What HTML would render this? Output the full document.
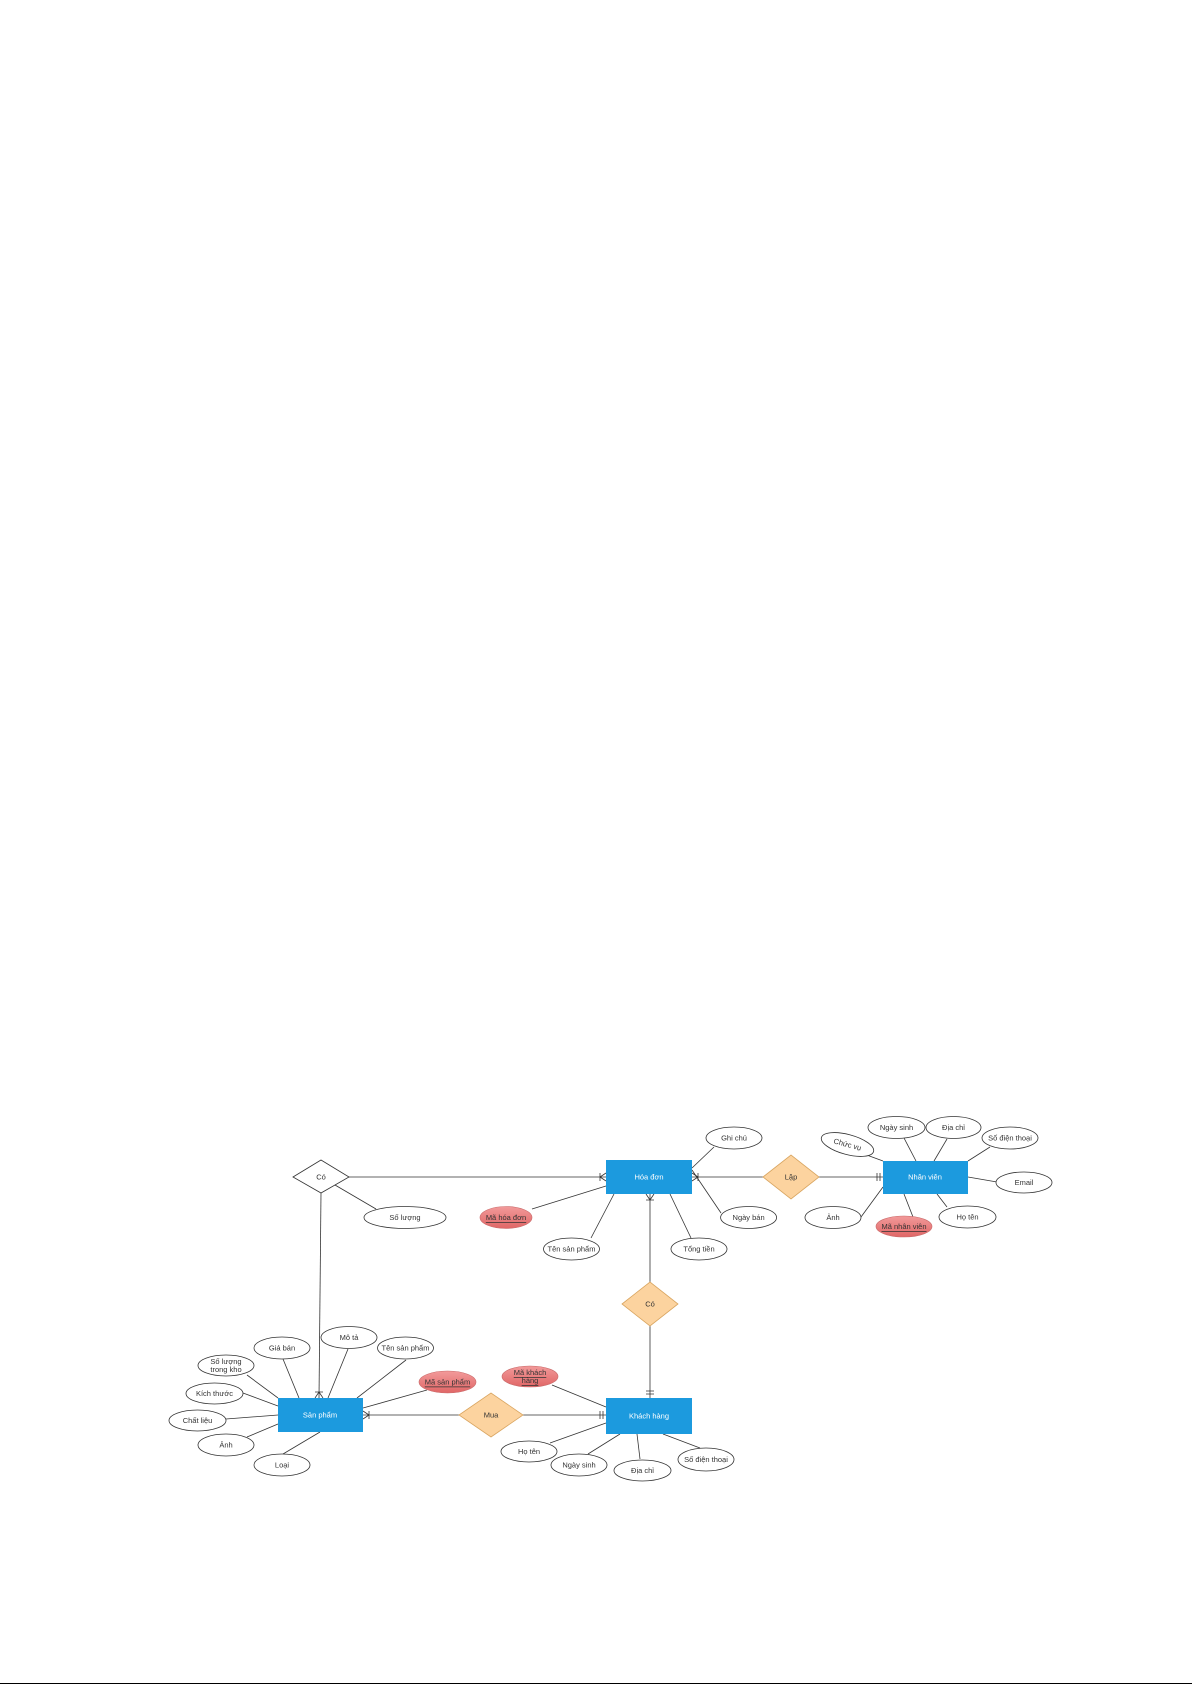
<!DOCTYPE html>
<html><head><meta charset="utf-8"><style>
html,body{margin:0;padding:0;background:#fff;}
svg{display:block;}
text{font-family:"Liberation Sans",sans-serif;font-size:7.5px;fill:#333;text-anchor:middle;dominant-baseline:central;}
.w{fill:#fff;}
.e{fill:#fff;stroke:#333;stroke-width:0.8;}
.r{fill:url(#rg);stroke:#c96a6a;stroke-width:0.6;}
.l{stroke:#333;stroke-width:0.8;fill:none;}
.b{fill:#1c9ade;}
.d{fill:#fcd39f;stroke:#d9a560;stroke-width:0.8;}
</style></head><body>
<svg width="1192" height="1685" viewBox="0 0 1192 1685">
<defs><linearGradient id="rg" x1="0" y1="0" x2="0" y2="1"><stop offset="0" stop-color="#f29a9a"/><stop offset="1" stop-color="#e06666"/></linearGradient></defs>
<!-- connectors -->
<g class="l">
<line x1="349" y1="1177" x2="606" y2="1177"/>
<line x1="321" y1="1193" x2="319" y2="1398"/>
<line x1="335" y1="1185" x2="376" y2="1209"/>
<line x1="532" y1="1209" x2="606" y2="1186"/>
<line x1="591" y1="1238" x2="614" y2="1194"/>
<line x1="714" y1="1147" x2="692" y2="1168"/>
<line x1="721" y1="1213" x2="692" y2="1170"/>
<line x1="691" y1="1238" x2="670" y2="1194"/>
<line x1="692" y1="1177" x2="763" y2="1177"/>
<line x1="819" y1="1177" x2="883" y2="1177"/>
<line x1="650" y1="1194" x2="650" y2="1282"/>
<line x1="650" y1="1326" x2="650" y2="1398"/>
<line x1="904" y1="1138" x2="916" y2="1161"/>
<line x1="947" y1="1139" x2="934" y2="1161"/>
<line x1="990" y1="1147" x2="968" y2="1161"/>
<line x1="997" y1="1182" x2="968" y2="1177"/>
<line x1="947" y1="1207" x2="937" y2="1194"/>
<line x1="913" y1="1217" x2="904" y2="1194"/>
<line x1="864" y1="1154" x2="883" y2="1161"/>
<line x1="861" y1="1217" x2="883" y2="1187"/>
<line x1="348" y1="1349" x2="328" y2="1398"/>
<line x1="283" y1="1359" x2="299" y2="1398"/>
<line x1="406" y1="1360" x2="357" y2="1398"/>
<line x1="247" y1="1375" x2="278" y2="1398"/>
<line x1="243" y1="1393" x2="278" y2="1406"/>
<line x1="226" y1="1419" x2="278" y2="1415"/>
<line x1="247" y1="1437" x2="278" y2="1424"/>
<line x1="283" y1="1454" x2="320" y2="1432"/>
<line x1="427" y1="1390" x2="363" y2="1408"/>
<line x1="363" y1="1415" x2="459" y2="1415"/>
<line x1="523" y1="1415" x2="606" y2="1415"/>
<line x1="552" y1="1385" x2="606" y2="1407"/>
<line x1="550" y1="1443" x2="606" y2="1423"/>
<line x1="588" y1="1454" x2="620" y2="1434"/>
<line x1="640" y1="1459" x2="637" y2="1434"/>
<line x1="700" y1="1448" x2="663" y2="1434"/>
<!-- crow's feet / bars -->
<path d="M600 1177 L606 1173 M600 1177 L606 1181 M600 1173 L600 1181"/>
<path d="M698 1177 L692 1173 M698 1177 L692 1181 M698 1173 L698 1181"/>
<path d="M877 1173 L877 1181 M880 1173 L880 1181"/>
<path d="M650 1200 L646 1194 M650 1200 L654 1194 M646 1200 L654 1200"/>
<path d="M646 1391 L654 1391 M646 1394 L654 1394"/>
<path d="M319 1392 L315 1398 M319 1392 L323 1398 M315 1392 L323 1392"/>
<path d="M369 1415 L363 1411 M369 1415 L363 1419 M369 1411 L369 1419"/>
<path d="M600 1411 L600 1419 M603 1411 L603 1419"/>
</g>
<!-- diamonds -->
<polygon points="293,1177 321,1160 349,1177 321,1193" fill="#fff" stroke="#333" stroke-width="0.8"/>
<text x="321" y="1177">Có</text>
<polygon class="d" points="763,1177 791,1155 819,1177 791,1199"/>
<text x="791" y="1177">Lập</text>
<polygon class="d" points="622,1304 650,1282 678,1304 650,1326"/>
<text x="650" y="1304">Có</text>
<polygon class="d" points="459,1415 491,1393 523,1415 491,1437"/>
<text x="491" y="1415">Mua</text>
<!-- entities -->
<rect class="b" x="606" y="1160" width="86" height="34"/>
<text class="w" x="649" y="1177">Hóa đơn</text>
<rect class="b" x="883" y="1161" width="85" height="33"/>
<text class="w" x="925" y="1177">Nhân viên</text>
<rect class="b" x="278" y="1398" width="85" height="34"/>
<text class="w" x="320" y="1415">Sản phẩm</text>
<rect class="b" x="606" y="1398" width="86" height="36"/>
<text class="w" x="649" y="1416">Khách hàng</text>
<!-- attributes -->
<ellipse class="e" cx="405" cy="1217.5" rx="41" ry="11"/><text x="405" y="1217.5">Số lượng</text>
<ellipse class="r" cx="506" cy="1217.5" rx="26" ry="11"/><text x="506" y="1217.5" text-decoration="underline">Mã hóa đơn</text>
<ellipse class="e" cx="571.5" cy="1249" rx="28" ry="11"/><text x="571.5" y="1249">Tên sản phẩm</text>
<ellipse class="e" cx="734" cy="1138" rx="28" ry="11"/><text x="734" y="1138">Ghi chú</text>
<ellipse class="e" cx="748.6" cy="1217.5" rx="28" ry="11"/><text x="748.6" y="1217.5">Ngày bán</text>
<ellipse class="e" cx="699" cy="1249" rx="28" ry="11"/><text x="699" y="1249">Tổng tiền</text>
<ellipse class="e" cx="896.5" cy="1127.5" rx="28.5" ry="11"/><text x="896.5" y="1127.5">Ngày sinh</text>
<ellipse class="e" cx="953.5" cy="1127.5" rx="27.5" ry="11"/><text x="953.5" y="1127.5">Địa chỉ</text>
<ellipse class="e" cx="1010" cy="1138" rx="28" ry="11"/><text x="1010" y="1138">Số điện thoại</text>
<ellipse class="e" cx="1024" cy="1182.5" rx="28" ry="10.5"/><text x="1024" y="1182.5">Email</text>
<ellipse class="e" cx="967.5" cy="1217" rx="28.5" ry="11"/><text x="967.5" y="1217">Họ tên</text>
<ellipse class="r" cx="904" cy="1226.5" rx="28" ry="10.5"/><text x="904" y="1226.5" text-decoration="underline">Mã nhân viên</text>
<g transform="rotate(15 847.5 1144.5)"><ellipse class="e" cx="847.5" cy="1144.5" rx="27" ry="10"/><text x="847.5" y="1144.5">Chức vụ</text></g>
<ellipse class="e" cx="833" cy="1217.5" rx="28" ry="11"/><text x="833" y="1217.5">Ảnh</text>
<ellipse class="e" cx="349" cy="1337.5" rx="28" ry="11"/><text x="349" y="1337.5">Mô tả</text>
<ellipse class="e" cx="282" cy="1348" rx="28" ry="11"/><text x="282" y="1348">Giá bán</text>
<ellipse class="e" cx="405.5" cy="1348" rx="28" ry="11"/><text x="405.5" y="1348">Tên sản phẩm</text>
<ellipse class="e" cx="226" cy="1365.5" rx="28" ry="10.5"/><text x="226" y="1361.5">Số lượng</text><text x="226" y="1369.5">trong kho</text>
<ellipse class="e" cx="214.5" cy="1393.5" rx="28.5" ry="10.5"/><text x="214.5" y="1393.5">Kích thước</text>
<ellipse class="e" cx="197.5" cy="1420.5" rx="28.5" ry="10.5"/><text x="197.5" y="1420.5">Chất liệu</text>
<ellipse class="e" cx="226" cy="1445" rx="28" ry="11"/><text x="226" y="1445">Ảnh</text>
<ellipse class="e" cx="282" cy="1465" rx="28" ry="11"/><text x="282" y="1465">Loại</text>
<ellipse class="r" cx="447.5" cy="1382" rx="28.5" ry="11"/><text x="447.5" y="1382" text-decoration="underline">Mã sản phẩm</text>
<ellipse class="r" cx="530" cy="1376.5" rx="28" ry="10.5"/><text x="530" y="1372.5" text-decoration="underline">Mã khách</text><text x="530" y="1380.5" text-decoration="underline">hàng</text>
<ellipse class="e" cx="529" cy="1451.5" rx="28" ry="10.5"/><text x="529" y="1451.5">Họ tên</text>
<ellipse class="e" cx="579" cy="1465" rx="28" ry="11"/><text x="579" y="1465">Ngày sinh</text>
<ellipse class="e" cx="642.5" cy="1470.5" rx="28.5" ry="10.5"/><text x="642.5" y="1470.5">Địa chỉ</text>
<ellipse class="e" cx="706" cy="1459.5" rx="28" ry="11.5"/><text x="706" y="1459.5">Số điện thoại</text>
<line x1="0" y1="1683.5" x2="1192" y2="1683.5" stroke="#000" stroke-width="1"/>
</svg>
</body></html>
